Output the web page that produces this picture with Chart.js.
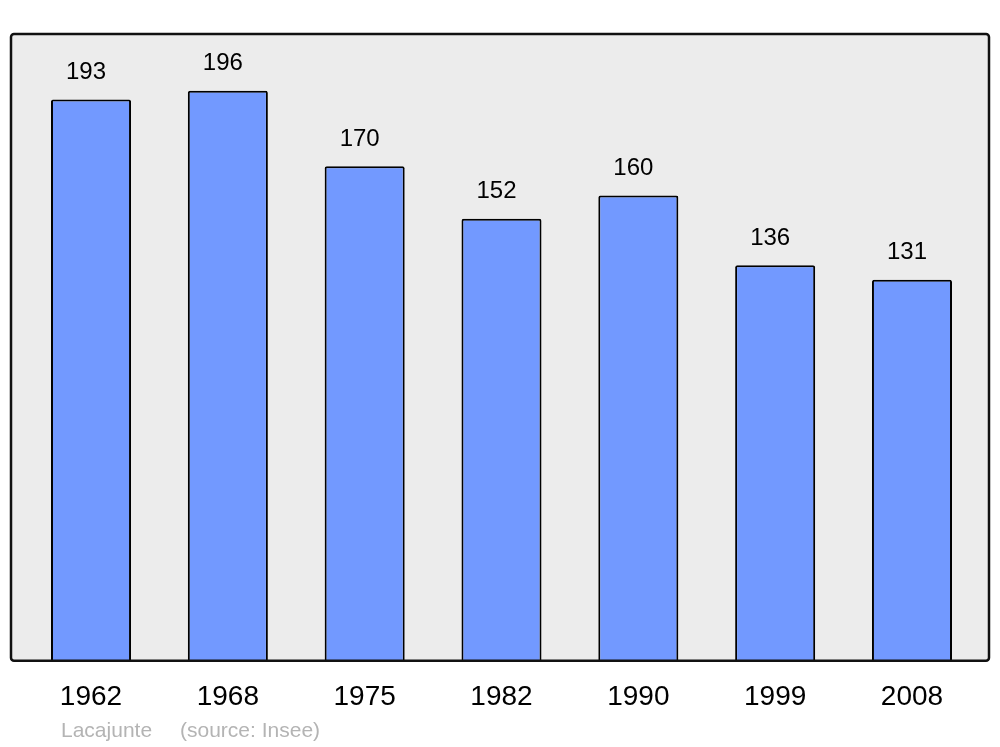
<!DOCTYPE html>
<html>
<head>
<meta charset="utf-8">
<script src="https://cdn.jsdelivr.net/npm/chart.js@4"></script>
<style>
  html, body { margin: 0; padding: 0; background: #fff; }
  #wrap { width: 1000px; height: 747px; }
</style>
</head>
<body>
<div id="wrap"><canvas id="chart"></canvas></div>
<script>
const years = ['1962', '1968', '1975', '1982', '1990', '1999', '2008'];
const population = [193, 196, 170, 152, 160, 136, 131];
const footerName = 'Lacajunte';
const footerSource = '(source: Insee)';

// grey frame behind the bars
const frame = {
    id: 'frame',
    beforeDatasetsDraw(chart) {
        const a = chart.chartArea, c = chart.ctx;
        const x0 = a.left - 11.6, x1 = a.right + 8.6;
        c.save();
        c.beginPath();
        c.roundRect(x0, a.top, x1 - x0, a.bottom - a.top, 3);
        c.fillStyle = '#ececec';
        c.fill();
        c.restore();
    },
    afterDatasetsDraw(chart) {
        const a = chart.chartArea, c = chart.ctx;
        const x0 = a.left - 11.6, x1 = a.right + 8.6;
        c.save();
        c.beginPath();
        c.roundRect(x0, a.top, x1 - x0, a.bottom - a.top, 3);
        c.lineWidth = 2.5;
        c.strokeStyle = '#111';
        c.stroke();
        c.restore();
    }
};

const valueLabels = {
    id: 'valueLabels',
    afterDatasetsDraw(chart) {
        const c = chart.ctx;
        c.save();
        c.font = '24px "Liberation Sans", Arial, sans-serif';
        c.fillStyle = '#000';
        c.textAlign = 'center';
        c.textBaseline = 'middle';
        chart.getDatasetMeta(0).data.forEach((bar, i) => {
            c.fillText(population[i], bar.x - 5, bar.y - 27);
        });
        c.font = '21px "Liberation Sans", Arial, sans-serif';
        c.fillStyle = '#b4b4b4';
        c.textAlign = 'left';
        c.fillText(footerName, 61, 731);
        c.fillText(footerSource, 180, 731);
        c.restore();
    }
};

const config = {
    type: 'bar',
    data: {
        labels: years,
        datasets: [{
            data: population,
            backgroundColor: '#7299ff',
            borderColor: '#000',
            borderWidth: 2,
            borderRadius: { topLeft: 2, topRight: 2 },
            borderSkipped: 'bottom',
            barPercentage: 0.585,
            categoryPercentage: 1
        }]
    },
    options: {
        responsive: true,
        maintainAspectRatio: false,
        animation: false,
        layout: {
            padding: { left: 22.6, right: 19.6, top: 34, bottom: 20.6 }
        },
        plugins: {
            legend: { display: false },
            tooltip: { enabled: false }
        },
        scales: {
            y: {
                display: false,
                min: 0,
                max: 215.5
            },
            x: {
                grid: { display: false },
                border: { display: false },
                ticks: {
                    color: '#000',
                    padding: 12,
                    font: { size: 28, family: '"Liberation Sans", Arial, sans-serif' }
                }
            }
        }
    },
    plugins: [frame, valueLabels]
};

const chart = new Chart(document.getElementById('chart'), config);
</script>
</body>
</html>
